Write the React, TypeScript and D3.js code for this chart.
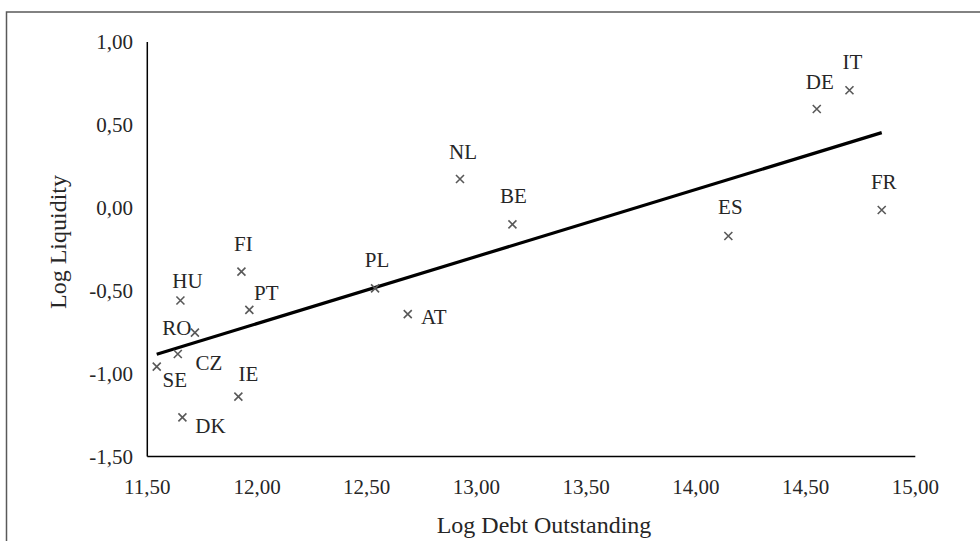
import React from "react";
import * as d3 from "d3";

const countries = ["SE", "CZ", "RO", "HU", "DK", "IE", "FI", "PT", "PL", "AT", "NL", "BE", "ES", "DE", "IT", "FR"];
const logDebt = [11.543, 11.639, 11.717, 11.651, 11.66, 11.915, 11.929, 11.965, 12.538, 12.687, 12.925, 13.164, 14.148, 14.551, 14.7, 14.847];
const logLiquidity = [-0.958, -0.882, -0.753, -0.559, -1.264, -1.139, -0.385, -0.616, -0.486, -0.641, 0.174, -0.1, -0.17, 0.596, 0.709, -0.013];
const xTicks = [11.5, 12, 12.5, 13, 13.5, 14, 14.5, 15];
const yTicks = [1, 0.5, 0, -0.5, -1, -1.5];

// label offsets (layout only)
const labelOffset: Record<string, [number, number]> = {
  SE: [18, 13], CZ: [31, 9], RO: [-18, -5], HU: [7, -19], DK: [28, 9], IE: [10, -23],
  FI: [2, -28], PT: [17, -17], PL: [2, -28], AT: [26, 3], NL: [3, -27], BE: [1, -28],
  ES: [2, -29], DE: [3, -27], IT: [3, -28], FR: [2, -28],
};

const W = 980;
const H = 541;
const FONT = "'Liberation Serif', 'Times New Roman', serif";
const fmt = (v: number) => d3.format(".2f")(v).replace(".", ",").replace("−", "-");

export default function App() {
  const x = d3.scaleLinear().domain([11.5, 15]).range([147.3, 915.3]);
  const y = d3.scaleLinear().domain([-1.5, 1]).range([456.5, 42]);

  const data = countries.map((c, i) => ({ c, x: logDebt[i], y: logLiquidity[i] }));
  const mx = d3.mean(data, (d) => d.x)!;
  const my = d3.mean(data, (d) => d.y)!;
  const sxy = d3.sum(data, (d) => (d.x - mx) * (d.y - my));
  const sxx = d3.sum(data, (d) => (d.x - mx) ** 2);
  const slope = sxy / sxx;
  const intercept = my - slope * mx;
  const [x0, x1] = d3.extent(logDebt) as [number, number];
  const trend = d3.line<number>()
    .x((v) => x(v))
    .y((v) => y(intercept + slope * v))([x0, x1]);

  const m = 4; // marker half-size
  const txt = "#262626";
  return (
    <svg width={W} height={H} style={{ position: "absolute", left: 0, top: 0, background: "#fff" }}>
      <rect x={6.5} y={12} width={990} height={560} fill="#fff" stroke="#595959" strokeWidth={1.5} />
      {/* axes */}
      <line x1={x(11.5)} x2={x(11.5)} y1={y(1)} y2={y(-1.5)} stroke="#000" strokeWidth={1.5} />
      <line x1={x(11.5)} x2={x(15)} y1={y(-1.5)} y2={y(-1.5)} stroke="#000" strokeWidth={1.5} />
      {yTicks.map((t) => (
        <text key={"y" + t} x={133} y={y(t)} textAnchor="end" dominantBaseline="central"
          fontFamily={FONT} fontSize={21} fill={txt}>{fmt(t)}</text>
      ))}
      {xTicks.map((t) => (
        <text key={"x" + t} x={x(t)} y={487} textAnchor="middle" dominantBaseline="central"
          fontFamily={FONT} fontSize={21} fill={txt}>{fmt(t)}</text>
      ))}
      <text x={544} y={525} textAnchor="middle" dominantBaseline="central" fontFamily={FONT} fontSize={24} fill={txt}>
        Log Debt Outstanding
      </text>
      <text transform={`translate(58,242) rotate(-90)`} textAnchor="middle" dominantBaseline="central"
        fontFamily={FONT} fontSize={24} fill={txt}>Log Liquidity</text>
      {/* trend */}
      <path d={trend || ""} fill="none" stroke="#000" strokeWidth={3.2} />
      {/* markers */}
      {data.map((d) => {
        const px = x(d.x), py = y(d.y);
        const [dx, dy] = labelOffset[d.c];
        return (
          <g key={d.c}>
            <path d={`M${px - m},${py - m}L${px + m},${py + m}M${px - m},${py + m}L${px + m},${py - m}`}
              stroke="#595959" strokeWidth={1.6} fill="none" />
            <text x={px + dx} y={py + dy} textAnchor="middle" dominantBaseline="central"
              fontFamily={FONT} fontSize={21} fill={txt}>{d.c}</text>
          </g>
        );
      })}
    </svg>
  );
}
